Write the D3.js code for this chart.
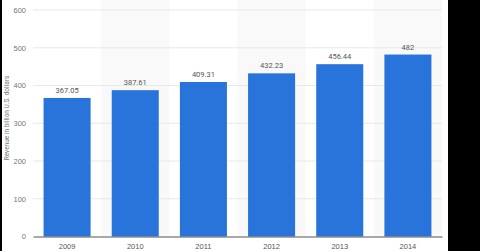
<!DOCTYPE html>
<html lang="en">
<head>
<meta charset="utf-8">
<title>Revenue</title>
<script src="https://cdn.jsdelivr.net/npm/d3@7"></script>
<style>
  body { margin: 0; background: #000; }
  svg { display: block; font-family: "Roboto", "Open Sans", sans-serif; }
</style>
</head>
<body>
<script>
// data
var years = ["2009", "2010", "2011", "2012", "2013", "2014"];
var revenue = [367.05, 387.61, 409.31, 432.23, 456.44, 482];
var yTicks = [0, 100, 200, 300, 400, 500, 600];

var width = 480, height = 251;
var svg = d3.select("body").append("svg")
  .attr("width", width)
  .attr("height", height);

// white panel, black border left/right
svg.append("rect")
  .attr("x", 2).attr("y", 0)
  .attr("width", 446).attr("height", height)
  .attr("fill", "#fff");

var x = d3.scaleBand()
  .domain(years)
  .range([33, 442])
  .paddingInner(0.31)
  .paddingOuter(0.155);

var y = d3.scaleLinear()
  .domain([0, 600])
  .range([236.5, 10]);

// alternating column bands
svg.selectAll("rect.band")
  .data(years.filter(function(d, i) { return i % 2 == 1; }))
  .enter().append("rect")
  .attr("class", "band")
  .attr("x", function(d) { return x(d) - x.step() * x.paddingInner() / 2; })
  .attr("y", 0)
  .attr("width", x.step())
  .attr("height", y(0))
  .attr("fill", "#f9f9f9");

// gridlines
svg.selectAll("line.grid")
  .data(yTicks.slice(1))
  .enter().append("line")
  .attr("class", "grid")
  .attr("x1", 33).attr("x2", 442)
  .attr("y1", function(d) { return y(d); })
  .attr("y2", function(d) { return y(d); })
  .attr("stroke", "#e8e8e8")
  .attr("stroke-width", 1);

// y axis
var yAxis = svg.append("g")
  .attr("transform", "translate(33,0)")
  .call(d3.axisLeft(y).tickValues(yTicks).tickSize(0).tickPadding(7));
yAxis.select(".domain").remove();
yAxis.selectAll("text")
  .attr("fill", "#777")
  .style("font-size", "7.5px");

// bars
svg.selectAll("rect.bar")
  .data(revenue)
  .enter().append("rect")
  .attr("class", "bar")
  .attr("x", function(d, i) { return x(years[i]); })
  .attr("y", function(d) { return y(d); })
  .attr("width", x.bandwidth())
  .attr("height", function(d) { return y(0) - y(d); })
  .attr("fill", "#2874db");

// value labels
svg.selectAll("text.val")
  .data(revenue)
  .enter().append("text")
  .attr("class", "val")
  .attr("x", function(d, i) { return x(years[i]) + x.bandwidth() / 2; })
  .attr("y", function(d) { return y(d) - 5; })
  .attr("text-anchor", "middle")
  .attr("fill", "#555")
  .style("font-size", "7.5px")
  .text(function(d) { return d; });

// x axis
var xAxis = svg.append("g")
  .attr("transform", "translate(0," + y(0) + ")")
  .call(d3.axisBottom(x).tickSize(0).tickPadding(7));
xAxis.select(".domain")
  .attr("stroke", "#555")
  .attr("stroke-width", 1);
xAxis.selectAll("text")
  .attr("fill", "#555")
  .style("font-size", "7.5px");

// y title
svg.append("text")
  .attr("transform", "translate(9,118) rotate(-90)")
  .attr("text-anchor", "middle")
  .attr("fill", "#777")
  .style("font-size", "6.5px")
  .text("Revenue in billion U.S. dollars");
</script>
</body>
</html>
